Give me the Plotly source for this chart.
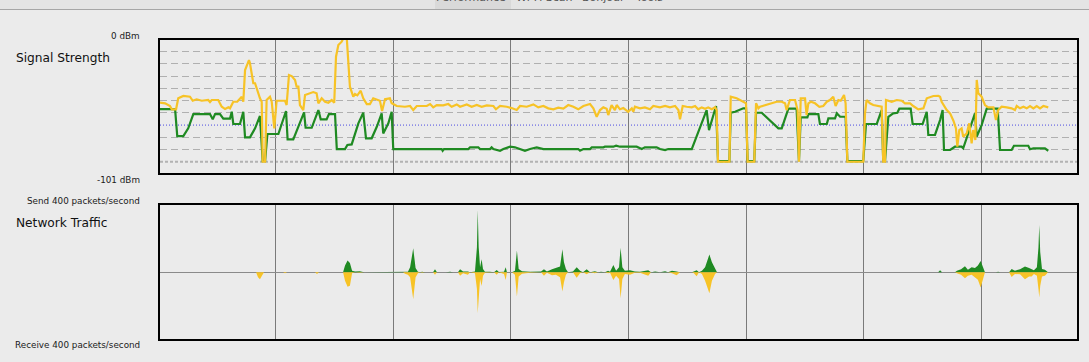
import plotly.graph_objects as go

# ---------------- Signal strength (time in s, level in dBm) ----------------
noise_t = [0, 2.6, 5.1, 6.0, 8.2, 9.3, 11.9, 15.3, 16.7, 18.7,
           21.3, 24.6, 25.5, 26.4, 29.7, 31.5, 33.2, 34.9, 35.7, 37.4,
           39.4, 41.7, 42.5, 43.4, 45.4, 45.9, 47.6, 48.5, 51.0, 51.9,
           52.4, 53.6, 54.4, 56.1, 57.0, 58.3, 59.5, 63.8, 64.6, 65.8,
           67.2, 68.9, 69.7, 70.6, 71.4, 73.1, 74.0, 78.2, 79.9, 80.8,
           82.5, 84.2, 85.9, 87.6, 88.9, 89.8, 91.0, 92.7, 93.5, 95.3,
           96.9, 98.6, 99.5, 100.7, 102.4, 103.7, 105.5, 107.1, 108.8, 112.2,
           113.3, 114.8, 117.3, 118.2, 119.0, 120.8, 125.0, 127.6, 129.2, 131.0,
           136.1, 137.8, 139.4, 141.2, 144.5, 147.1, 148.8, 151.4, 153.1, 156.5,
           159.0, 161.6, 164.1, 166.7, 170.1, 171.4, 173.5, 176.9, 179.4, 182.0,
           183.7, 187.1, 190.5, 193.0, 195.6, 198.1, 200.7, 203.2, 205.8, 208.3,
           210.9, 213.4, 216.0, 219.4, 221.1, 222.8, 224.5, 226.2, 227.9, 228.7,
           230.4, 232.1, 233.0, 234.7, 236.4, 238.9, 240.7, 241.5, 242.3, 244.9,
           247.4, 250.0, 251.7, 255.1, 257.7, 260.2, 262.8, 264.5, 265.3, 266.7,
           268.7, 271.3, 273.0, 274.6, 276.4, 278.1, 279.7, 281.5, 283.2, 284.0,
           284.7, 290.5, 291.2, 294.2, 297.6, 299.0, 299.8, 303.2, 304.1, 305.3,
           306.1, 309.5, 314.6, 317.2, 318.9, 319.7, 321.4, 324.0, 325.3, 326.0,
           326.9, 329.1, 329.9, 330.8, 332.1, 334.2, 336.4, 338.4, 340.2, 341.8,
           343.5, 344.7, 346.1, 347.3, 349.0, 349.8, 350.7, 358.8, 359.7, 360.5,
           362.2, 363.9, 368.2, 369.0, 369.9, 370.4, 373.3, 375.9, 378.4, 380.1,
           382.7, 384.3, 386.9, 389.5, 391.2, 394.6, 397.1, 398.0, 398.8, 401.4,
           403.1, 404.8, 406.1, 406.8, 407.8, 409.0, 409.8, 411.6, 412.9, 414.1,
           414.9, 416.0, 416.7, 417.5, 419.2, 420.9, 422.6, 425.2, 426.5, 427.7,
           429.4, 432.0, 434.5, 436.2, 437.1, 438.8, 440.5, 442.2, 443.9, 445.6,
           447.3, 449.0, 450.7, 453.2]
noise_dbm = [-51.7, -52.2, -54.4, -57.1, -57.1, -48.1, -46.2, -46.8, -50.1, -48.9,
             -50.1, -49.5, -51.1, -49.5, -49.5, -55.0, -56.9, -55.5, -56.3, -50.9,
             -50.9, -46.8, -50.9, -25.0, -16.8, -19.5, -35.8, -35.8, -48.1, -50.9,
             -100, -100, -49.5, -46.8, -50.9, -72.7, -50.1, -50.1, -53.6, -29.0,
             -29.9, -33.1, -38.6, -38.6, -53.6, -57.7, -45.4, -43.0, -44.0, -52.2,
             -48.1, -50.9, -51.7, -49.5, -51.7, -14.1, -4.5, -1.8, 1.0, 1.0,
             -38.6, -46.8, -44.6, -45.7, -41.9, -48.1, -52.8, -52.8, -48.1, -50.1,
             -58.5, -48.9, -48.1, -52.2, -52.8, -54.4, -55.0, -54.4, -57.7, -54.4,
             -54.4, -52.8, -55.5, -53.6, -53.9, -52.8, -55.0, -53.1, -55.0, -53.1,
             -55.0, -53.6, -55.0, -53.9, -54.4, -57.1, -54.4, -55.0, -56.1, -57.7,
             -54.4, -55.0, -53.1, -55.5, -54.4, -56.3, -57.1, -55.8, -56.6, -53.6,
             -55.0, -57.1, -54.4, -52.8, -56.3, -63.2, -57.7, -55.5, -56.6, -61.8,
             -53.6, -57.7, -53.6, -57.1, -56.1, -59.1, -56.3, -59.1, -55.0, -56.3,
             -55.5, -57.1, -54.4, -55.5, -54.4, -55.5, -54.4, -57.7, -65.3, -54.4,
             -55.0, -55.5, -54.4, -57.1, -55.5, -56.6, -55.5, -57.1, -55.5, -57.7,
             -100, -100, -46.8, -48.1, -50.9, -52.2, -100, -100, -52.2, -56.3,
             -55.0, -53.6, -50.9, -50.9, -52.2, -57.7, -49.5, -49.5, -57.7, -100,
             -48.1, -48.1, -61.8, -52.2, -50.9, -52.2, -55.0, -54.4, -50.9, -49.5,
             -46.8, -54.4, -49.5, -50.1, -45.4, -52.2, -100, -100, -60.4, -49.5,
             -52.2, -53.6, -55.0, -100, -100, -49.5, -50.9, -49.5, -50.1, -52.2,
             -52.2, -54.4, -57.1, -56.3, -48.1, -46.2, -46.0, -46.8, -50.9, -57.7,
             -60.4, -66.4, -72.7, -87.7, -74.1, -72.7, -79.5, -76.8, -68.6, -84.9,
             -74.1, -82.2, -33.1, -44.0, -46.8, -53.6, -55.5, -55.5, -65.9, -57.7,
             -55.0, -55.5, -56.3, -57.7, -54.4, -56.3, -55.0, -56.3, -54.4, -56.3,
             -54.4, -56.3, -54.4, -55.5]

signal_t = [0, 7.7, 8.8, 11.9, 14.4, 17.0, 25.5, 26.9, 28.1, 30.6,
            32.3, 35.7, 36.6, 37.4, 40.8, 42.5, 43.4, 45.9, 48.5, 51.0,
            52.4, 53.6, 54.8, 60.4, 64.3, 65.1, 68.0, 70.6, 73.5, 74.3,
            77.4, 80.8, 82.0, 85.0, 86.2, 89.3, 90.2, 94.4, 95.6, 97.8,
            101.2, 103.7, 105.1, 108.0, 110.6, 113.1, 113.9, 116.5, 118.2, 119.0,
            143.7, 144.2, 144.9, 157.3, 158.2, 162.4, 163.3, 168.4, 169.2, 170.1,
            173.5, 175.2, 178.6, 181.1, 183.7, 186.2, 188.8, 192.2, 195.6, 213.4,
            214.3, 216.0, 219.4, 220.3, 226.2, 227.0, 231.3, 232.7, 234.7, 243.2,
            245.8, 247.4, 253.4, 255.1, 257.7, 259.3, 271.3, 278.9, 280.1, 283.7,
            284.7, 290.5, 291.2, 293.4, 297.6, 299.0, 299.8, 303.2, 304.1, 307.0,
            315.5, 317.2, 320.6, 324.8, 326.0, 326.9, 330.3, 330.8, 335.9, 336.7,
            340.2, 341.0, 344.4, 345.3, 347.0, 349.8, 350.7, 358.8, 360.2, 365.7,
            368.2, 369.0, 369.9, 371.6, 374.1, 376.2, 377.2, 383.0, 384.0, 389.1,
            391.2, 392.0, 395.4, 398.0, 399.3, 400.0, 403.1, 405.6, 409.0, 409.8,
            415.8, 416.7, 419.2, 421.8, 427.4, 428.6, 434.5, 435.7, 443.0, 443.9,
            445.6, 451.5, 453.2]
signal_dbm = [-56.9, -56.9, -79.0, -79.0, -72.7, -61.0, -61.0, -65.3, -61.0, -61.0,
              -64.8, -64.8, -59.1, -69.1, -69.1, -59.1, -80.0, -80.0, -72.7, -62.6,
              -99.5, -99.5, -77.3, -77.3, -58.5, -81.7, -81.7, -71.4, -59.6, -72.2,
              -72.2, -57.7, -65.3, -65.3, -61.0, -61.0, -89.6, -89.6, -86.3, -85.8,
              -68.6, -59.9, -80.8, -80.8, -71.4, -60.4, -76.8, -68.6, -59.1, -89.6,
              -89.6, -91.0, -89.6, -89.6, -88.2, -88.2, -89.6, -89.6, -88.2, -89.6,
              -91.0, -89.6, -87.7, -88.2, -89.6, -91.0, -89.6, -88.2, -89.6, -89.6,
              -91.0, -89.6, -89.6, -88.2, -88.2, -87.7, -87.7, -86.9, -87.7, -87.7,
              -89.6, -88.2, -88.2, -89.6, -90.4, -89.6, -89.6, -57.7, -74.1, -54.4,
              -99.5, -99.5, -59.9, -59.1, -56.3, -56.3, -99.5, -99.5, -59.9, -59.9,
              -72.7, -72.7, -56.6, -56.6, -99.5, -63.7, -63.7, -61.0, -61.0, -69.1,
              -69.1, -64.5, -64.5, -60.4, -63.2, -63.2, -99.5, -99.5, -69.1, -69.1,
              -57.7, -99.5, -99.5, -63.2, -60.4, -59.9, -56.6, -56.6, -69.1, -69.1,
              -59.1, -78.1, -78.1, -65.9, -57.7, -90.4, -90.4, -87.7, -87.7, -89.0,
              -60.4, -79.5, -70.0, -56.6, -56.6, -90.4, -90.4, -86.9, -86.9, -89.8,
              -89.0, -89.0, -91.0]

# ---------------- Network traffic (packets / second) ----------------
traffic_t = [0, 14.3, 15.3, 16.3,
             49.0, 50.0, 51.0, 52.0, 53.1,
             62.8, 63.8, 64.8,
             69.4, 70.4, 71.4,
             79.1, 80.1, 81.1,
             93.4, 94.4, 95.7, 96.9, 98.0, 99.5, 102.0, 104.1,
             124.0, 125.0, 126.5, 127.6, 129.2, 130.4, 131.6, 132.7, 133.7, 135.2,
             139.3, 140.3, 141.3,
             145.9, 148.0, 149.5,
             152.0, 153.1, 154.6, 157.1, 158.2,
             160.7, 161.7, 162.1, 162.6, 163.3, 164.1, 164.8, 165.8, 168.4, 170.4,
             171.8, 172.9, 175.5, 176.4, 177.0,
             179.6, 181.1, 182.1, 183.0, 184.7, 188.8, 192.3, 194.4, 195.9, 197.4,
             200.0, 202.0, 204.1, 205.3, 206.1, 207.1, 208.2,
             210.7, 212.6, 214.3, 215.8, 217.7, 219.4, 221.9, 223.5, 225.0, 227.0,
             228.6, 229.6, 231.3, 232.7, 234.2, 235.0, 235.9, 237.2, 239.8, 242.3,
             244.9, 249.1, 250.5,
             252.6, 255.1, 257.7, 259.2, 261.2, 263.6, 265.3,
             271.4, 272.4, 273.8, 275.0, 276.5, 278.1, 280.3, 281.6, 283.2, 284.2,
             317.9, 318.9, 319.9, 323.0, 324.0, 325.0, 334.7, 335.7, 336.7,
             348.5, 349.5, 350.5, 367.4, 368.4, 369.4, 381.7, 382.7, 383.7,
             397.0, 398.0, 399.0,
             405.6, 406.6, 408.7, 410.7, 412.2, 414.1, 415.8, 417.3, 418.7, 419.9, 420.9,
             426.5, 427.6, 428.6,
             433.2, 434.5, 436.2, 438.8, 441.3, 443.4, 444.7, 445.9, 447.4, 448.2,
             448.6, 449.1, 450.0, 451.5, 452.6, 453.1]
send_pps = [0, 0, 3, 0,
            0, 0, 3, 0, 0,
            0, 0, 0,
            0, 2, 0,
            0, 0, 0,
            0, 40, 70, 55, 10, 5, 6, 0,
            0, 4, 3, 30, 143, 25, 4, 0, 4, 0,
            0, 18, 0,
            0, 4, 0,
            0, 18, 5, 5, 0,
            5, 150, 372, 150, 30, 78, 20, 4, 3, 0,
            14, 2, 3, 30, 0,
            0, 10, 130, 20, 6, 4, 4, 5, 18, 5,
            18, 25, 35, 137, 60, 20, 0,
            5, 30, 10, 0, 18, 0, 6, 0, 4, 0,
            10, 3, 44, 10, 30, 147, 30, 10, 12, 5,
            3, 12, 0,
            5, 0, 6, 0, 10, 5, 0,
            0, 5, 12, 0, 10, 30, 107, 60, 20, 0,
            0, 0, 0, 0, 0, 0, 0, 0, 0,
            0, 0, 0, 0, 0, 0, 0, 0, 0,
            0, 12, 0,
            0, 10, 18, 36, 15, 30, 25, 40, 68, 30, 0,
            0, 3, 0,
            0, 20, 10, 18, 34, 25, 18, 12, 30, 150,
            283, 120, 20, 15, 5, 0]
receive_pps = [0, 0, 0, 0,
               0, 30, 42, 20, 0,
               0, 5, 0,
               0, 0, 0,
               0, 10, 0,
               0, 50, 86, 80, 5, 0, 3, 0,
               0, 8, 14, 30, 161, 30, 5, 0, 2, 0,
               0, 14, 0,
               0, 3, 0,
               0, 20, 6, 14, 0,
               5, 100, 245, 120, 40, 82, 20, 3, 3, 0,
               14, 0, 10, 46, 0,
               0, 14, 145, 25, 8, 3, 3, 0, 20, 3,
               18, 15, 30, 115, 60, 15, 0,
               0, 32, 6, 0, 12, 0, 5, 0, 0, 0,
               5, 3, 46, 20, 40, 155, 40, 10, 14, 3,
               3, 20, 0,
               0, 3, 0, 0, 5, 18, 0,
               0, 6, 24, 0, 10, 50, 125, 50, 10, 0,
               0, 3, 0, 0, 3, 0, 0, 3, 0,
               0, 3, 0, 0, 3, 0, 0, 2, 0,
               0, 0, 0,
               0, 6, 15, 36, 20, 15, 30, 45, 90, 40, 0,
               0, 0, 0,
               0, 28, 10, 12, 42, 25, 25, 10, 20, 100,
               150, 80, 25, 20, 5, 0]

assert len(noise_t) == len(noise_dbm)
assert len(signal_t) == len(signal_dbm)
assert len(traffic_t) == len(send_pps) == len(receive_pps)

# grid / axis settings
time_grid = [59, 119, 179, 239, 299, 359, 419]
dash_levels = [-10, -20, -30, -40, -50, -60, -80, -90]
blue_level = -70
floor_level = -100
tab_labels = ["Performance", "Wi-Fi Scan", "Bonjour", "Tools"]
tab_x = [471, 544, 603, 649]

GREEN = "#1f8a22"
YELLOW = "#f7c326"
BG = "#ebebeb"
W, H = 1089, 362

fig = go.Figure()

fig.add_trace(go.Scatter(x=signal_t, y=signal_dbm, mode="lines",
                         line=dict(color=GREEN, width=2.2), xaxis="x", yaxis="y",
                         showlegend=False, hoverinfo="skip"))
fig.add_trace(go.Scatter(x=noise_t, y=noise_dbm, mode="lines",
                         line=dict(color=YELLOW, width=2.2), xaxis="x", yaxis="y",
                         showlegend=False, hoverinfo="skip"))

fig.add_trace(go.Scatter(x=traffic_t, y=send_pps, mode="lines", fill="tozeroy",
                         fillcolor=GREEN, line=dict(color=GREEN, width=0),
                         xaxis="x2", yaxis="y2", showlegend=False, hoverinfo="skip"))
fig.add_trace(go.Scatter(x=traffic_t, y=[-v for v in receive_pps], mode="lines",
                         fill="tozeroy", fillcolor=YELLOW,
                         line=dict(color=YELLOW, width=0),
                         xaxis="x2", yaxis="y2", showlegend=False, hoverinfo="skip"))

xdom = [160 / W, 1077 / W]
xr = [0, 917 / 1.96]

axis_common = dict(showline=True, mirror=True, linecolor="black", linewidth=1.5,
                   ticks="", showticklabels=False, fixedrange=True)

fig.update_layout(
    width=W, height=H, autosize=False,
    margin=dict(l=0, r=0, t=0, b=0),
    paper_bgcolor=BG, plot_bgcolor=BG,
    xaxis=dict(domain=xdom, range=xr, anchor="y", tickmode="array",
               tickvals=time_grid, showgrid=True, gridcolor="#7a7a7a",
               gridwidth=1, zeroline=False, **axis_common),
    yaxis=dict(domain=[1 - 173 / H, 1 - 40 / H], range=[-109.2, -0.4],
               anchor="x", tickmode="array", tickvals=dash_levels,
               showgrid=True, gridcolor="#b0b0b0", gridwidth=1,
               griddash="7px,4px", zeroline=False, **axis_common),
    xaxis2=dict(domain=xdom, range=xr, anchor="y2", tickmode="array",
                tickvals=time_grid, showgrid=True, gridcolor="#7a7a7a",
                gridwidth=1, zeroline=False, **axis_common),
    yaxis2=dict(domain=[1 - 339.3 / H, 1 - 205.3 / H], range=[-400, 400],
                anchor="x2", showgrid=False, zeroline=True,
                zerolinecolor="#8a8a8a", zerolinewidth=1, **axis_common),
)

shapes = [
    dict(type="line", xref="x domain", yref="y", x0=0, x1=1, y0=blue_level, y1=blue_level,
         line=dict(color="#4a4ae0", width=1, dash="1px,2px"), layer="below"),
    dict(type="line", xref="x domain", yref="y", x0=0, x1=1, y0=floor_level, y1=floor_level,
         line=dict(color="#b3b3b3", width=2, dash="3px,2px"), layer="below"),
    # window toolbar strip
    dict(type="rect", xref="paper", yref="paper", x0=0, x1=1, y0=1 - 9.5 / H, y1=1,
         fillcolor="#e4e4e4", line=dict(width=0), layer="below"),
    dict(type="rect", xref="paper", yref="paper", x0=435 / W, x1=511 / W, y0=1 - 9.5 / H, y1=1,
         fillcolor="#d9d9d9", line=dict(width=0), layer="below"),
    dict(type="line", xref="paper", yref="paper", x0=0, x1=1, y0=1 - 9.5 / H, y1=1 - 9.5 / H,
         line=dict(color="#a6a6a6", width=1)),
]
fig.update_layout(shapes=shapes)

FONT = "DejaVu Sans"
small = dict(family=FONT, size=8.8, color="#1a1a1a")
big = dict(family=FONT, size=12.2, color="#111111")

annots = [
    dict(text="0 dBm", x=142 / W, y=1 - 35.7 / H, xanchor="right", font=small),
    dict(text="Signal Strength", x=14 / W, y=1 - 58 / H, xanchor="left", font=big),
    dict(text="-101 dBm", x=142 / W, y=1 - 180.5 / H, xanchor="right", font=small),
    dict(text="Send 400 packets/second", x=142 / W, y=1 - 200.7 / H, xanchor="right", font=small),
    dict(text="Network Traffic", x=14 / W, y=1 - 223.3 / H, xanchor="left", font=big),
    dict(text="Receive 400 packets/second", x=142 / W, y=1 - 344.7 / H, xanchor="right", font=small),
]
for lab, tx in zip(tab_labels, tab_x):
    annots.append(dict(text=lab, x=tx / W, y=1 + 2.5 / H, xanchor="center",
                       font=dict(family=FONT, size=11, color="#555555")))
for a in annots:
    a.update(xref="paper", yref="paper", showarrow=False, yanchor="middle")
fig.update_layout(annotations=annots)

fig.write_html("out.html")
